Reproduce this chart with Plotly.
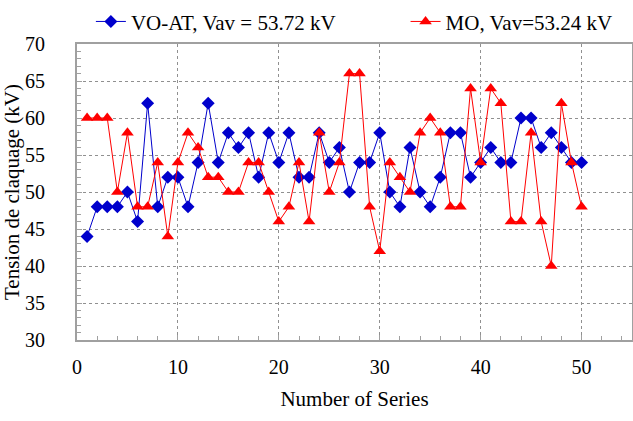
import plotly.graph_objects as go

series_x = list(range(1, 51))
vo_at = [44, 48, 48, 48, 50, 46, 62, 48, 52, 52,
         48, 54, 62, 54, 58, 56, 58, 52, 58, 54,
         58, 52, 52, 58, 54, 56, 50, 54, 54, 58,
         50, 48, 56, 50, 48, 52, 58, 58, 52, 54,
         56, 54, 54, 60, 60, 56, 58, 56, 54, 54]
mo = [60, 60, 60, 50, 58, 48, 48, 54, 44, 54,
      58, 56, 52, 52, 50, 50, 54, 54, 50, 46,
      48, 54, 46, 58, 50, 54, 66, 66, 48, 42,
      54, 52, 50, 58, 60, 58, 48, 48, 64, 54,
      64, 62, 46, 46, 58, 46, 40, 62, 54, 48]
name_vo = "VO-AT, Vav = 53.72 kV"
name_mo = "MO, Vav=53.24 kV"

font_family = "Liberation Serif, Times New Roman, serif"

fig = go.Figure()
fig.add_trace(go.Scatter(x=series_x, y=vo_at, mode="lines+markers", name=name_vo,
                         line=dict(color="#0000CC", width=1),
                         marker=dict(symbol="diamond", size=10, color="#0000CC"),
                         legend="legend"))
fig.add_trace(go.Scatter(x=series_x, y=mo, mode="lines+markers", name=name_mo,
                         line=dict(color="#FF0000", width=1),
                         marker=dict(symbol="triangle-up", size=11, color="#FF0000"),
                         legend="legend2"))

axis_common = dict(showline=True, linecolor="#A0A0A0", linewidth=2, mirror=True,
                   showgrid=True, gridcolor="#909090", griddash="dot", gridwidth=1,
                   ticks="inside", ticklen=5, tickcolor="#A0A0A0",
                   tickfont=dict(size=20, color="black", family=font_family),
                   zeroline=False, automargin=False)

fig.update_xaxes(range=[0, 55], dtick=10, tick0=0, ticklabelstandoff=8,
                 minor=dict(dtick=2, ticks="inside", ticklen=4, tickcolor="#A0A0A0", showgrid=False),
                 title=dict(text="Number of Series", font=dict(size=21, family=font_family, color="black"), standoff=14),
                 **axis_common)
fig.update_yaxes(range=[30, 70], dtick=5, tick0=30, ticklabelstandoff=26,
                 minor=dict(dtick=1, ticks="inside", ticklen=4, tickcolor="#A0A0A0", showgrid=False),
                 title=dict(text="Tension de claquage (kV)", font=dict(size=21, family=font_family, color="black"), standoff=3),
                 **axis_common)

legend_common = dict(orientation="h", xanchor="left", y=1.075, yanchor="middle",
                     font=dict(size=21, family=font_family, color="black"),
                     bgcolor="rgba(0,0,0,0)")

fig.update_layout(
    width=633, height=421,
    margin=dict(l=77, r=1, t=44, b=81, autoexpand=False),
    paper_bgcolor="white", plot_bgcolor="white",
    font=dict(family=font_family, size=21, color="black"),
    showlegend=True,
    legend=dict(x=0.025, **legend_common),
    legend2=dict(x=0.592, **legend_common),
)

fig.write_html("out.html", config={"displayModeBar": False},
               post_script="document.body.style.margin='0';")
